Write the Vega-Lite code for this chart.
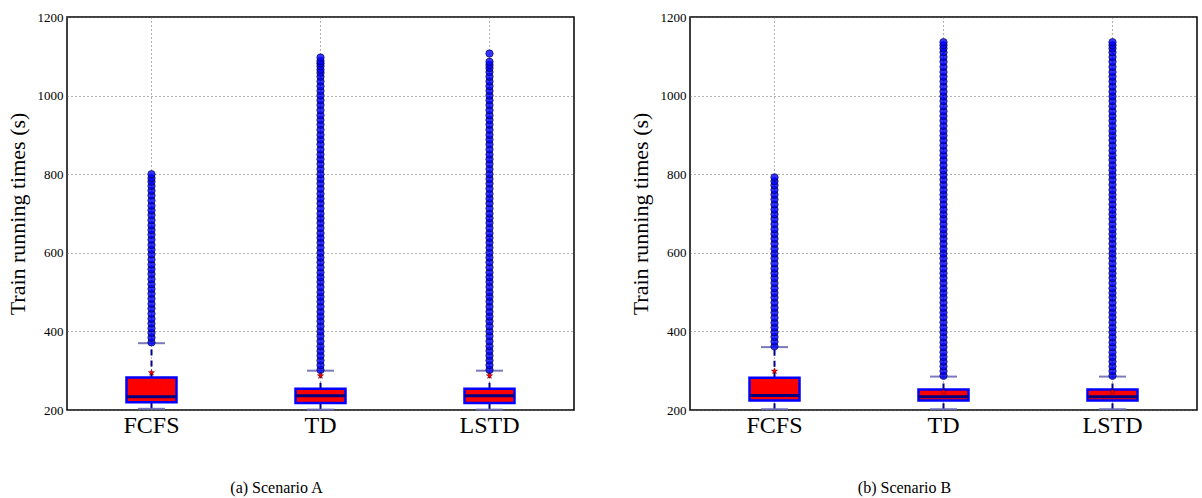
{
  "$schema": "https://vega.github.io/schema/vega-lite/v6.json",
  "background": "white",
  "padding": {"left": 5, "top": 10, "right": 2, "bottom": 2},
  "bounds": "flush",
  "spacing": 116,
  "datasets": {
    "stats": [
      {"s": "A", "m": "FCFS", "lower": 203, "q1": 220, "median": 234, "q3": 283, "upper": 370, "mean": 295},
      {"s": "A", "m": "TD", "lower": 201, "q1": 218, "median": 236, "q3": 254, "upper": 300, "mean": 287},
      {"s": "A", "m": "LSTD", "lower": 201, "q1": 218, "median": 236, "q3": 254, "upper": 300, "mean": 287},
      {"s": "B", "m": "FCFS", "lower": 202, "q1": 224, "median": 237, "q3": 282, "upper": 360, "mean": 299},
      {"s": "B", "m": "TD", "lower": 202, "q1": 224, "median": 234, "q3": 252, "upper": 285, "mean": 246},
      {"s": "B", "m": "LSTD", "lower": 202, "q1": 224, "median": 234, "q3": 252, "upper": 285, "mean": 246}
    ],
    "fliers": [
      {"s": "A", "m": "FCFS", "v": [372,384,396,408,420,432,445,458,470,483,496,508,520,533,546,558,570,583,596,608,620,633,646,658,670,683,696,708,720,733,746,758,770,781,790,800]},
      {"s": "A", "m": "TD", "v": [302,314,326,338,350,362,375,388,400,413,426,438,450,463,476,488,500,513,526,538,550,563,576,588,600,613,626,638,650,663,676,688,700,713,726,738,750,763,776,788,800,813,826,838,850,863,876,888,900,913,926,938,950,963,976,988,1000,1012,1024,1036,1048,1058,1066,1075,1082,1088,1097]},
      {"s": "A", "m": "LSTD", "v": [302,314,326,338,350,362,375,388,400,413,426,438,450,463,476,488,500,513,526,538,550,563,576,588,600,613,626,638,650,663,676,688,700,713,726,738,750,763,776,788,800,813,826,838,850,863,876,888,900,913,926,938,950,963,976,988,1000,1012,1024,1036,1048,1060,1070,1078,1086,1107]},
      {"s": "B", "m": "FCFS", "v": [362,374,386,398,410,422,435,448,460,473,486,498,510,523,536,548,560,573,586,598,610,623,636,648,660,673,686,698,710,723,736,748,760,772,782,792]},
      {"s": "B", "m": "TD", "v": [287,299,311,323,335,347,360,372,385,398,410,423,436,448,460,473,486,498,510,523,536,548,560,573,586,598,610,623,636,648,660,673,686,698,710,723,736,748,760,773,786,798,810,823,836,848,860,873,886,898,910,923,936,948,960,973,986,998,1010,1023,1036,1048,1060,1073,1086,1098,1110,1120,1128,1136]},
      {"s": "B", "m": "LSTD", "v": [287,299,311,323,335,347,360,372,385,398,410,423,436,448,460,473,486,498,510,523,536,548,560,573,586,598,610,623,636,648,660,673,686,698,710,723,736,748,760,773,786,798,810,823,836,848,860,873,886,898,910,923,936,948,960,973,986,998,1010,1023,1036,1048,1060,1073,1086,1098,1110,1120,1128,1136]}
    ]
  },
  "hconcat": [
    {
      "width": 507,
      "height": 393,
      "encoding": {
        "x": {
          "field": "m", "type": "nominal", "sort": ["FCFS", "TD", "LSTD"],
          "scale": {"paddingInner": 0, "paddingOuter": 0},
          "axis": {"title": "(a) Scenario A", "titleFontSize": 16, "titleX": 209, "titleY": 82, "titleAlign": "center", "titleBaseline": "alphabetic", "labelFontSize": 24, "labelAngle": 0, "labelPadding": 3}
        }
      },
      "layer": [
        {
          "data": {"name": "stats"},
          "transform": [{"filter": "datum.s === 'A'"}],
          "mark": {"type": "rule", "color": "#00008b", "strokeWidth": 2, "strokeDash": [6, 5]},
          "encoding": {
            "y": {"field": "q3", "type": "quantitative", "scale": {"domain": [200, 1200], "nice": false, "zero": false},
              "axis": {"title": "Train running times (s)", "titleFontSize": 22, "labelFontSize": 13, "format": "d", "values": [200, 400, 600, 800, 1000, 1200], "labelPadding": 4, "titlePadding": 8, "labelFlush": false}},
            "y2": {"field": "upper"}
          }
        },
        {
          "data": {"name": "stats"},
          "transform": [{"filter": "datum.s === 'A'"}],
          "mark": {"type": "rule", "color": "#00008b", "strokeWidth": 2, "strokeDash": [6, 5]},
          "encoding": {"y": {"field": "lower", "type": "quantitative", "axis": {"title": "Train running times (s)", "titleFontSize": 22, "labelFontSize": 13, "format": "d", "values": [200, 400, 600, 800, 1000, 1200], "labelPadding": 4, "titlePadding": 8, "labelFlush": false}}, "y2": {"field": "q1"}}
        },
        {
          "data": {"name": "stats"},
          "transform": [{"filter": "datum.s === 'A'"}],
          "mark": {"type": "bar", "size": 50, "color": "#ff0000", "stroke": "#0000ff", "strokeWidth": 2.5},
          "encoding": {"y": {"field": "q1", "type": "quantitative", "axis": {"title": "Train running times (s)", "titleFontSize": 22, "labelFontSize": 13, "format": "d", "values": [200, 400, 600, 800, 1000, 1200], "labelPadding": 4, "titlePadding": 8, "labelFlush": false}}, "y2": {"field": "q3"}}
        },
        {
          "data": {"name": "stats"},
          "transform": [{"filter": "datum.s === 'A'"}],
          "mark": {"type": "tick", "size": 50, "thickness": 3, "color": "#000080", "opacity": 1},
          "encoding": {"y": {"field": "median", "type": "quantitative", "axis": {"title": "Train running times (s)", "titleFontSize": 22, "labelFontSize": 13, "format": "d", "values": [200, 400, 600, 800, 1000, 1200], "labelPadding": 4, "titlePadding": 8, "labelFlush": false}}}
        },
        {
          "data": {"name": "stats"},
          "transform": [{"filter": "datum.s === 'A'"}],
          "mark": {"type": "tick", "size": 27, "thickness": 2, "color": "#6a6ab4", "opacity": 0.9},
          "encoding": {"y": {"field": "upper", "type": "quantitative", "axis": {"title": "Train running times (s)", "titleFontSize": 22, "labelFontSize": 13, "format": "d", "values": [200, 400, 600, 800, 1000, 1200], "labelPadding": 4, "titlePadding": 8, "labelFlush": false}}}
        },
        {
          "data": {"name": "stats"},
          "transform": [{"filter": "datum.s === 'A'"}],
          "mark": {"type": "tick", "size": 27, "thickness": 2, "color": "#6a6ab4", "opacity": 0.9},
          "encoding": {"y": {"field": "lower", "type": "quantitative", "axis": {"title": "Train running times (s)", "titleFontSize": 22, "labelFontSize": 13, "format": "d", "values": [200, 400, 600, 800, 1000, 1200], "labelPadding": 4, "titlePadding": 8, "labelFlush": false}}}
        },
        {
          "data": {"name": "fliers"},
          "transform": [{"filter": "datum.s === 'A'"}, {"flatten": ["v"]}],
          "mark": {"type": "point", "shape": "circle", "filled": true, "size": 55, "fill": "#0000ff", "fillOpacity": 0.8, "stroke": "#000033", "strokeOpacity": 0.75, "strokeWidth": 0.8},
          "encoding": {"y": {"field": "v", "type": "quantitative", "axis": {"title": "Train running times (s)", "titleFontSize": 22, "labelFontSize": 13, "format": "d", "values": [200, 400, 600, 800, 1000, 1200], "labelPadding": 4, "titlePadding": 8, "labelFlush": false}}}
        },
        {
          "data": {"name": "stats"},
          "transform": [{"filter": "datum.s === 'A'"}],
          "mark": {"type": "point", "filled": true, "shape": "M0,-1L0.2245,-0.309L0.951,-0.309L0.3633,0.118L0.5878,0.809L0,0.382L-0.5878,0.809L-0.3633,0.118L-0.951,-0.309L-0.2245,-0.309Z", "size": 40, "fill": "#ff0000", "stroke": "#800000", "strokeWidth": 0.6, "opacity": 1},
          "encoding": {"y": {"field": "mean", "type": "quantitative", "axis": {"title": "Train running times (s)", "titleFontSize": 22, "labelFontSize": 13, "format": "d", "values": [200, 400, 600, 800, 1000, 1200], "labelPadding": 4, "titlePadding": 8, "labelFlush": false}}}
        }
      ]
    },
    {
      "width": 507,
      "height": 393,
      "encoding": {
        "x": {
          "field": "m", "type": "nominal", "sort": ["FCFS", "TD", "LSTD"],
          "scale": {"paddingInner": 0, "paddingOuter": 0},
          "axis": {"title": "(b) Scenario B", "titleFontSize": 16, "titleX": 214, "titleY": 82, "titleAlign": "center", "titleBaseline": "alphabetic", "labelFontSize": 24, "labelAngle": 0, "labelPadding": 3}
        }
      },
      "layer": [
        {
          "data": {"name": "stats"},
          "transform": [{"filter": "datum.s === 'B'"}],
          "mark": {"type": "rule", "color": "#00008b", "strokeWidth": 2, "strokeDash": [6, 5]},
          "encoding": {
            "y": {"field": "q3", "type": "quantitative", "scale": {"domain": [200, 1200], "nice": false, "zero": false},
              "axis": {"title": "Train running times (s)", "titleFontSize": 22, "labelFontSize": 13, "format": "d", "values": [200, 400, 600, 800, 1000, 1200], "labelPadding": 4, "titlePadding": 8, "labelFlush": false}},
            "y2": {"field": "upper"}
          }
        },
        {
          "data": {"name": "stats"},
          "transform": [{"filter": "datum.s === 'B'"}],
          "mark": {"type": "rule", "color": "#00008b", "strokeWidth": 2, "strokeDash": [6, 5]},
          "encoding": {"y": {"field": "lower", "type": "quantitative", "axis": {"title": "Train running times (s)", "titleFontSize": 22, "labelFontSize": 13, "format": "d", "values": [200, 400, 600, 800, 1000, 1200], "labelPadding": 4, "titlePadding": 8, "labelFlush": false}}, "y2": {"field": "q1"}}
        },
        {
          "data": {"name": "stats"},
          "transform": [{"filter": "datum.s === 'B'"}],
          "mark": {"type": "bar", "size": 50, "color": "#ff0000", "stroke": "#0000ff", "strokeWidth": 2.5},
          "encoding": {"y": {"field": "q1", "type": "quantitative", "axis": {"title": "Train running times (s)", "titleFontSize": 22, "labelFontSize": 13, "format": "d", "values": [200, 400, 600, 800, 1000, 1200], "labelPadding": 4, "titlePadding": 8, "labelFlush": false}}, "y2": {"field": "q3"}}
        },
        {
          "data": {"name": "stats"},
          "transform": [{"filter": "datum.s === 'B'"}],
          "mark": {"type": "tick", "size": 50, "thickness": 3, "color": "#000080", "opacity": 1},
          "encoding": {"y": {"field": "median", "type": "quantitative", "axis": {"title": "Train running times (s)", "titleFontSize": 22, "labelFontSize": 13, "format": "d", "values": [200, 400, 600, 800, 1000, 1200], "labelPadding": 4, "titlePadding": 8, "labelFlush": false}}}
        },
        {
          "data": {"name": "stats"},
          "transform": [{"filter": "datum.s === 'B'"}],
          "mark": {"type": "tick", "size": 27, "thickness": 2, "color": "#6a6ab4", "opacity": 0.9},
          "encoding": {"y": {"field": "upper", "type": "quantitative", "axis": {"title": "Train running times (s)", "titleFontSize": 22, "labelFontSize": 13, "format": "d", "values": [200, 400, 600, 800, 1000, 1200], "labelPadding": 4, "titlePadding": 8, "labelFlush": false}}}
        },
        {
          "data": {"name": "stats"},
          "transform": [{"filter": "datum.s === 'B'"}],
          "mark": {"type": "tick", "size": 27, "thickness": 2, "color": "#6a6ab4", "opacity": 0.9},
          "encoding": {"y": {"field": "lower", "type": "quantitative", "axis": {"title": "Train running times (s)", "titleFontSize": 22, "labelFontSize": 13, "format": "d", "values": [200, 400, 600, 800, 1000, 1200], "labelPadding": 4, "titlePadding": 8, "labelFlush": false}}}
        },
        {
          "data": {"name": "fliers"},
          "transform": [{"filter": "datum.s === 'B'"}, {"flatten": ["v"]}],
          "mark": {"type": "point", "shape": "circle", "filled": true, "size": 55, "fill": "#0000ff", "fillOpacity": 0.8, "stroke": "#000033", "strokeOpacity": 0.75, "strokeWidth": 0.8},
          "encoding": {"y": {"field": "v", "type": "quantitative", "axis": {"title": "Train running times (s)", "titleFontSize": 22, "labelFontSize": 13, "format": "d", "values": [200, 400, 600, 800, 1000, 1200], "labelPadding": 4, "titlePadding": 8, "labelFlush": false}}}
        },
        {
          "data": {"name": "stats"},
          "transform": [{"filter": "datum.s === 'B'"}],
          "mark": {"type": "point", "filled": true, "shape": "M0,-1L0.2245,-0.309L0.951,-0.309L0.3633,0.118L0.5878,0.809L0,0.382L-0.5878,0.809L-0.3633,0.118L-0.951,-0.309L-0.2245,-0.309Z", "size": 40, "fill": "#ff0000", "stroke": "#800000", "strokeWidth": 0.6, "opacity": 1},
          "encoding": {"y": {"field": "mean", "type": "quantitative", "axis": {"title": "Train running times (s)", "titleFontSize": 22, "labelFontSize": 13, "format": "d", "values": [200, 400, 600, 800, 1000, 1200], "labelPadding": 4, "titlePadding": 8, "labelFlush": false}}}
        }
      ]
    }
  ],
  "config": {
    "view": {"stroke": "black", "strokeWidth": 1.5},
    "axis": {
      "labelFont": "Liberation Serif", "titleFont": "Liberation Serif", "titleFontWeight": "normal",
      "labelColor": "black", "titleColor": "black",
      "grid": true, "gridDash": [1, 3], "gridColor": "#666", "gridWidth": 1,
      "domain": false, "ticks": false, "zindex": 1
    }
  }
}
